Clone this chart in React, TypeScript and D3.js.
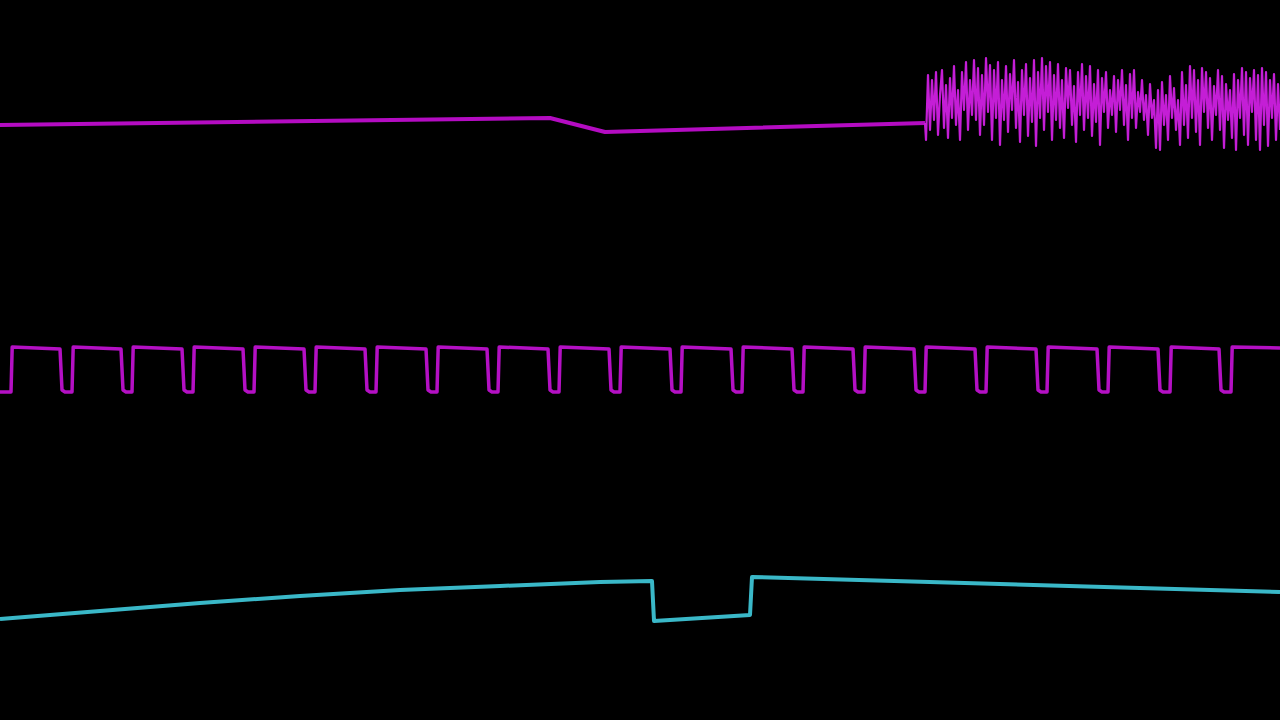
import React from 'react';
import * as d3 from 'd3';

// time axis in ms, screen spans 0 .. 12.8 ms
const TIME_SPAN = [0, 12.8];

// CH1: slow drift then a burst of noise (mV)
const ch1Times = [0, 5.5, 6.05, 9.25];
const ch1Values = [0, 7, -7, 2];
const noiseStart = 9.26;
const noiseStep = 0.02;
const ch1Noise = [
  -15, 50, -5, 45, 5, 53, -10, 30, 55, -3, 40, -13, 47, 7, 59, 0, 35, -15, 53, 15,
  63, -5, 45, 10, 65, 5, 57, -10, 50, 0, 67, 13, 60, -15, 55, 7, 63, -20, 45, 5,
  59, -7, 51, 15, 65, -3, 43, -17, 55, 10, 61, -11, 47, 3, 65, -21, 53, 7, 67, -5,
  59, 13, 63, -15, 50, 5, 61, -3, 45, -13, 57, 17, 55, 0, 39, -17, 53, 10, 61, -5,
  49, 7, 59, -11, 41, 3, 55, -20, 47, 13, 53, -3, 35, 10, 49, -7, 45, 15, 55, 0,
  40, -15, 51, 7, 55, -3, 33, 13, 45, 5, 30, -10, 41, 7, 25, -23, 35, -25, 43, 0,
  30, -15, 49, 7, 37, -5, 25, -20, 53, 0, 40, -13, 59, 7, 55, -7, 45, -20, 57, 13,
  53, -3, 47, -15, 39, 10, 55, -5, 49, -23, 41, 5, 35, -13, 51, -25, 45, 7, 57, -10,
  53, -20, 47, 13, 55, -15, 50, -25, 57, 0, 53, -21, 45, 7, 51, -15, 41, -5,
];

// CH2: square wave edges (ms) and levels (mV)
const ch2Rise = [0.11, 0.72, 1.32, 1.93, 2.54, 3.15, 3.76, 4.37, 4.98, 5.59, 6.2, 6.81, 7.42, 8.03, 8.64, 9.25, 9.86, 10.47, 11.08, 11.7, 12.31];
const ch2Fall = [0.6, 1.21, 1.82, 2.43, 3.04, 3.65, 4.26, 4.87, 5.48, 6.09, 6.7, 7.31, 7.92, 8.53, 9.14, 9.75, 10.36, 10.97, 11.58, 12.19];
const ch2High = 23;
const ch2HighEnd = 21;
const ch2Low = -22;

// CH3: slow ramp with a notch (mV)
const ch3Times = [0, 1, 2, 3, 4, 5, 6, 6.52, 6.54, 7.5, 7.52, 10, 12.8];
const ch3Values = [-19, -11, -3, 4, 10, 14, 18, 19, -21, -15, 23, 16, 8];

const W = 1280;
const H = 720;

export default function App() {
  const x = d3.scaleLinear().domain(TIME_SPAN).range([0, W]);
  const chScale = (center: number) => d3.scaleLinear().domain([-100, 100]).range([center + 100, center - 100]);
  const y1 = chScale(125);
  const y2 = chScale(370);
  const y3 = chScale(600);

  const line = (ys: d3.ScaleLinear<number, number>) =>
    d3.line<[number, number]>().x((d) => x(d[0])).y((d) => ys(d[1]));

  const ch1Base: [number, number][] = ch1Times.map((t, i) => [t, ch1Values[i]]);
  const ch1Burst: [number, number][] = [
    [ch1Times[ch1Times.length - 1], ch1Values[ch1Values.length - 1]],
    ...ch1Noise.map((v, i) => [noiseStart + i * noiseStep, v] as [number, number]),
  ];

  const sq: [number, number][] = [[0, ch2Low]];
  ch2Rise.forEach((r, i) => {
    sq.push([r, ch2Low]);
    sq.push([r + 0.012, ch2High]);
    const f = ch2Fall[i];
    if (f !== undefined) {
      sq.push([f, ch2HighEnd]);
      sq.push([f + 0.02, ch2Low + 2]);
      sq.push([f + 0.05, ch2Low]);
    } else {
      sq.push([TIME_SPAN[1], ch2HighEnd + 1]);
    }
  });

  const ch3: [number, number][] = ch3Times.map((t, i) => [t, ch3Values[i]]);

  return (
    <svg width={W} height={H} style={{ position: 'fixed', left: 0, top: 0, display: 'block' }}>
      <rect width={W} height={H} fill="#000" />
      <path d={line(y1)(ch1Base)!} fill="none" stroke="#b40cc2" strokeWidth={4} strokeLinejoin="round" />
      <path d={line(y1)(ch1Burst)!} fill="none" stroke="#c41ed6" strokeWidth={2.2} strokeLinejoin="round" />
      <path d={line(y2)(sq)!} fill="none" stroke="#b410c4" strokeWidth={3.5} strokeLinejoin="round" />
      <path d={line(y3)(ch3)!} fill="none" stroke="#3ab8c8" strokeWidth={4} strokeLinejoin="round" />
    </svg>
  );
}
